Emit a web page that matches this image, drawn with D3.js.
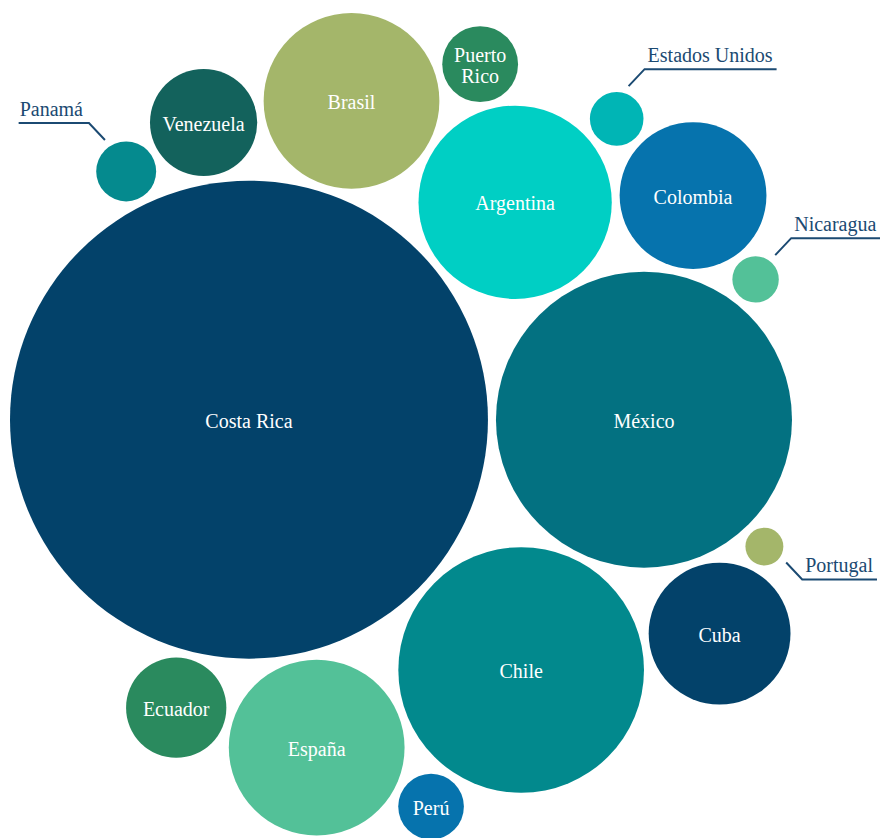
<!DOCTYPE html>
<html><head><meta charset="utf-8">
<script src="https://cdn.jsdelivr.net/npm/d3@7"></script>
<style>body{margin:0;background:#fff}svg{display:block}</style>
</head><body>
<svg id="chart" width="880" height="838"></svg>
<script>
const countries = ["Costa Rica","México","Chile","Argentina","Brasil","España","Colombia","Cuba","Venezuela","Ecuador","Puerto Rico","Perú","Panamá","Estados Unidos","Nicaragua","Portugal"];
const values    = [318,122,84,52,43,43,30,28,16,14,8,6,5,4,3,2];
const colors    = ["#03426a","#037181","#02898d","#00cfc4","#a4b66a","#53c198","#0673ad","#03426a","#13625c","#2a8a5e","#2a8a5e","#0673ad","#058a8e","#00b5b5","#53c198","#a4b66a"];
const outsideLabels = ["Panamá","Estados Unidos","Nicaragua","Portugal"];
const leaderAngles  = [-124,-70,-51,36];
// layout hint: circle tucked into the gap between two neighbours (as in the original)
const tuckName = "Portugal", tuckBetween = ["México","Cuba"];

const W = 880, H = 838, PAD = 4;
const svg = d3.select("#chart");
const rScale = d3.scaleSqrt().domain([0, d3.max(values)]).range([0, 239]);
const nodes = countries.map((c,i)=>({name:c, value:values[i], color:colors[i], r: rScale(values[i]) + PAD}));
const packed = nodes.filter(d=>d.name!==tuckName);
d3.packSiblings(packed);
// place the tucked circle tangent to its two neighbours, on the outer side
(function(){
  const c = nodes.find(d=>d.name===tuckName);
  const A = nodes.find(d=>d.name===tuckBetween[0]), B = nodes.find(d=>d.name===tuckBetween[1]);
  const ra = A.r + c.r, rb = B.r + c.r;
  const dx = B.x - A.x, dy = B.y - A.y, d = Math.hypot(dx, dy);
  const t = (ra*ra - rb*rb + d*d) / (2*d);
  const h = Math.sqrt(Math.max(0, ra*ra - t*t));
  const mx = A.x + dx*t/d, my = A.y + dy*t/d;
  const p1 = [mx - dy*h/d, my + dx*h/d], p2 = [mx + dy*h/d, my - dx*h/d];
  const cx = d3.mean(packed, n=>n.x), cy = d3.mean(packed, n=>n.y);
  const far = Math.hypot(p1[0]-cx,p1[1]-cy) > Math.hypot(p2[0]-cx,p2[1]-cy) ? p1 : p2;
  c.x = far[0]; c.y = far[1];
})();

const xmin = d3.min(nodes, d=>d.x-d.r+PAD), xmax = d3.max(nodes, d=>d.x+d.r-PAD);
const ymin = d3.min(nodes, d=>d.y-d.r+PAD);
const k = (792-10)/(xmax-xmin);
const x = d3.scaleLinear().domain([xmin, xmax]).range([10, 792]);
const y = d3.scaleLinear().domain([ymin, ymin + (xmax-xmin)]).range([13, 13+782]);

const g = svg.append("g");
g.selectAll("circle").data(nodes).join("circle")
  .attr("cx", d=>x(d.x)).attr("cy", d=>y(d.y))
  .attr("r", d=>(d.r-PAD)*k).attr("fill", d=>d.color);

const font = "'Liberation Serif','Times New Roman',serif";
const inside = nodes.filter(d=>!outsideLabels.includes(d.name));
const lbl = g.selectAll("text.in").data(inside).join("text").attr("class","in")
  .attr("x", d=>x(d.x)).attr("y", d=>y(d.y))
  .attr("text-anchor","middle").attr("fill","#fff")
  .style("font-family", font).style("font-size","20px");
lbl.each(function(d){
  const parts = d.name === "Puerto Rico" ? ["Puerto","Rico"] : [d.name];
  const t = d3.select(this);
  parts.forEach((p,i)=>{
    t.append("tspan").attr("x", x(d.x))
     .attr("dy", i===0 ? ((0.4 - (parts.length-1)*0.5) + "em") : "1.05em").text(p);
  });
});

const navy = "#1b4a72";
outsideLabels.forEach((name, i)=>{
  const d = nodes.find(n=>n.name===name);
  const a = leaderAngles[i]*Math.PI/180;
  const rr = (d.r-PAD)*k + 8;
  const sx = x(d.x) + Math.cos(a)*rr, sy = y(d.y) + Math.sin(a)*rr;
  const dirx = Math.cos(a) < 0 ? -1 : 1, diry = Math.sin(a) < 0 ? -1 : 1;
  const ex = sx + dirx*16, ey = sy + diry*17;
  const txt = g.append("text").attr("fill", navy)
    .style("font-family", font).style("font-size","20px").text(name);
  const tw = txt.node().getComputedTextLength();
  const lineLen = tw + 7;
  const hx = ex + dirx*lineLen;
  const tx = dirx > 0 ? ex + 3 : hx + 1;
  txt.attr("x", tx).attr("y", ey - 7);
  g.append("path").attr("fill","none").attr("stroke", navy).attr("stroke-width", 2)
    .attr("d", `M${sx},${sy}L${ex},${ey}L${hx},${ey}`);
});
</script>
</body></html>
